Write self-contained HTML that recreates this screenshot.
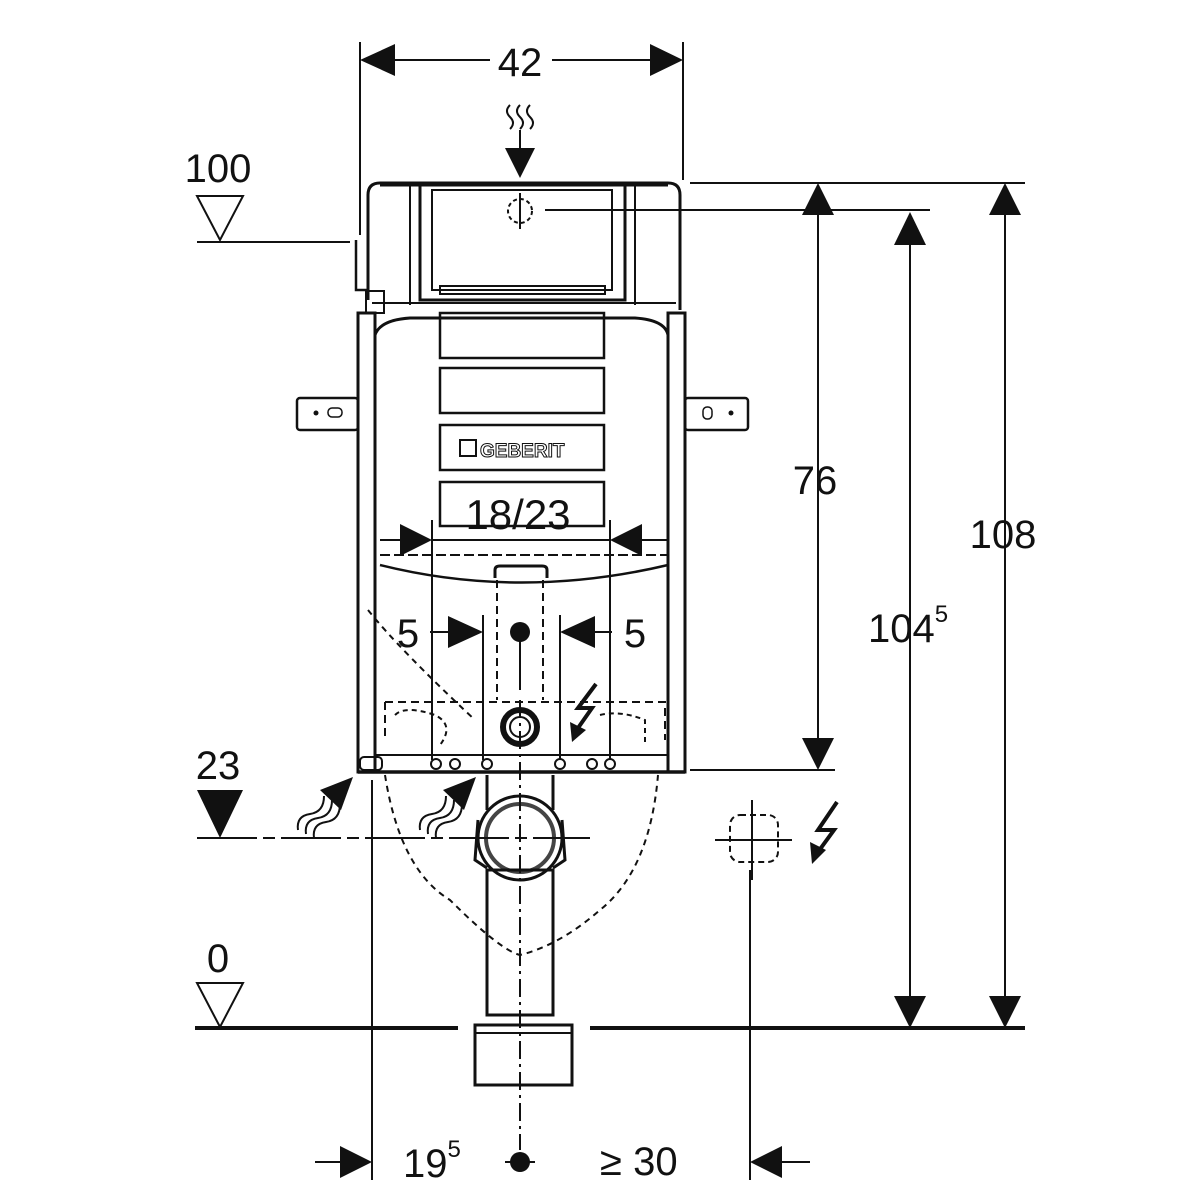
<!DOCTYPE html>
<html><head><meta charset="utf-8"><style>
html,body{margin:0;padding:0;background:#fff}
svg{display:block}
text{font-family:"Liberation Sans",sans-serif;fill:#111}
</style></head><body>
<svg width="1200" height="1200" viewBox="0 0 1200 1200" xmlns="http://www.w3.org/2000/svg">
<g stroke="#111" fill="none" stroke-width="2">
<line x1="360" y1="42" x2="360" y2="235"/>
<line x1="683" y1="42" x2="683" y2="180"/>
<line x1="395" y1="60" x2="490" y2="60"/>
<line x1="552" y1="60" x2="650" y2="60"/>
<path d="M510 105 q-6 6 0 12 q6 6 0 12 M520 105 q-6 6 0 12 q6 6 0 12 M530 105 q-6 6 0 12 q6 6 0 12"/>
<line x1="520" y1="130" x2="520" y2="150"/>
<path d="M368 300 L368 195 Q368 183 380 183 L668 183 Q680 183 680 195 L680 310" stroke-width="3"/>
<line x1="380" y1="185" x2="668" y2="185" stroke-width="3"/>
<rect x="420" y="185" width="205" height="115" stroke-width="3"/>
<rect x="432" y="190" width="180" height="100" stroke-width="2"/>
<rect x="440" y="286" width="165" height="8" stroke-width="2"/>
<line x1="410" y1="185" x2="410" y2="305"/>
<line x1="635" y1="185" x2="635" y2="305"/>
<line x1="372" y1="303" x2="676" y2="303"/>
<path d="M356 240 L356 290 L368 290" stroke-width="2.5"/>
<rect x="366" y="291" width="18" height="22" stroke-width="2"/>
<circle cx="520" cy="211" r="12" stroke-dasharray="4 3"/>
<line x1="520" y1="193" x2="520" y2="229"/>
<line x1="545" y1="210" x2="930" y2="210"/>
<line x1="690" y1="183" x2="1025" y2="183"/>
<rect x="358" y="313" width="17" height="459" stroke-width="3"/>
<rect x="668" y="313" width="17" height="459" stroke-width="3"/>
<path d="M375 772 L375 335 Q380 320 410 318 L635 318 Q665 320 668 335 L668 772" stroke-width="3"/>
<line x1="358" y1="772" x2="685" y2="772" stroke-width="3.5"/>
<line x1="375" y1="755" x2="668" y2="755" stroke-width="2"/>
<rect x="440" y="313" width="164" height="45" stroke-width="2.5"/>
<rect x="440" y="368" width="164" height="45" stroke-width="2.5"/>
<rect x="440" y="425" width="164" height="45" stroke-width="2.5"/>
<rect x="440" y="482" width="164" height="44" stroke-width="2.5"/>
<rect x="297" y="398" width="61" height="32" rx="3" stroke-width="2.5"/>
<rect x="685" y="398" width="63" height="32" rx="3" stroke-width="2.5"/>
<line x1="432" y1="520" x2="432" y2="760"/>
<line x1="610" y1="520" x2="610" y2="760"/>
<line x1="380" y1="540" x2="400" y2="540"/>
<line x1="432" y1="540" x2="610" y2="540"/>
<line x1="642" y1="540" x2="668" y2="540"/>
<line x1="380" y1="555" x2="668" y2="555" stroke-dasharray="10 4"/>
<path d="M380 565 Q520 600 668 565" stroke-width="2.5"/>
<path d="M495 578 L495 570 Q495 566 500 566 L542 566 Q547 566 547 570 L547 578" stroke-width="3"/>
<line x1="497" y1="580" x2="497" y2="700" stroke-dasharray="8 5"/>
<line x1="543" y1="580" x2="543" y2="700" stroke-dasharray="8 5"/>
<line x1="483" y1="615" x2="483" y2="760"/>
<line x1="560" y1="615" x2="560" y2="760"/>
<line x1="430" y1="632" x2="448" y2="632"/>
<line x1="595" y1="632" x2="612" y2="632"/>
<line x1="520" y1="640" x2="520" y2="690"/>
<path d="M385 702 L665 702 L665 740 M385 702 L385 740" stroke-dasharray="8 5"/>
<path d="M395 715 q10 -10 40 0 q20 10 5 30 M600 715 q20 -5 45 5 l0 25" stroke-dasharray="5 4"/>
<path d="M368 610 Q400 650 475 720" stroke-dasharray="6 5"/>
<circle cx="520" cy="727" r="17" stroke-width="6"/>
<circle cx="520" cy="727" r="10"/>
<circle cx="436" cy="764" r="5"/><circle cx="455" cy="764" r="5"/><circle cx="487" cy="764" r="5"/>
<circle cx="560" cy="764" r="5"/><circle cx="592" cy="764" r="5"/><circle cx="610" cy="764" r="5"/>
<rect x="360" y="757" width="22" height="13" rx="4"/>
<path d="M385 775 Q400 870 450 900 Q500 950 520 955 Q560 945 600 910 Q650 870 658 775" stroke-dasharray="6 5"/>
<path d="M487 775 L487 810 M553 775 L553 810" stroke-width="3"/>
<circle cx="520" cy="838" r="42" stroke-width="3"/>
<circle cx="520" cy="838" r="34" stroke-width="4" stroke="#444"/>
<path d="M478 820 L475 860 L487 868 M562 820 L565 860 L553 868" stroke-width="3"/>
<rect x="487" y="870" width="66" height="145" stroke-width="3"/>
<rect x="475" y="1025" width="97" height="60" stroke-width="3"/>
<line x1="475" y1="1033" x2="572" y2="1033" stroke-width="2"/>
<line x1="520" y1="700" x2="520" y2="1150" stroke-dasharray="18 5 3 5"/>
<line x1="197" y1="242" x2="350" y2="242"/>
<path d="M197 196 L243 196 L220 240 Z"/>
<line x1="197" y1="838" x2="590" y2="838" stroke-dasharray="60 6 12 6"/>
<path d="M197 983 L243 983 L220 1027 Z"/>
<line x1="195" y1="1028" x2="458" y2="1028" stroke-width="4"/>
<line x1="590" y1="1028" x2="1025" y2="1028" stroke-width="4"/>
<path d="M298 830 q-2 -14 12 -16 q14 -2 14 -18 M306 834 q-2 -14 12 -16 q14 -2 14 -18 M314 838 q-2 -14 12 -16 q14 -2 14 -18" stroke-width="2"/>
<path d="M420 830 q-2 -14 12 -16 q14 -2 14 -18 M428 834 q-2 -14 12 -16 q14 -2 14 -18 M436 838 q-2 -14 12 -16 q14 -2 14 -18" stroke-width="2"/>
<line x1="818" y1="215" x2="818" y2="740"/>
<line x1="910" y1="245" x2="910" y2="998"/>
<line x1="1005" y1="215" x2="1005" y2="998"/>
<line x1="690" y1="770" x2="835" y2="770"/>
<rect x="730" y="815" width="48" height="47" rx="10" stroke-dasharray="6 4"/>
<line x1="715" y1="840" x2="792" y2="840"/>
<line x1="752" y1="800" x2="752" y2="880"/>
<line x1="750" y1="870" x2="750" y2="1180"/>
<line x1="372" y1="780" x2="372" y2="1180"/>
<line x1="315" y1="1162" x2="340" y2="1162"/>
<line x1="505" y1="1162" x2="535" y2="1162"/>
<line x1="782" y1="1162" x2="810" y2="1162"/>
<!-- lightning bolts -->
<path d="M596 684 L578 708 L592 708 L578 728" stroke-width="4"/>
<path d="M837 802 L818 830 L834 830 L818 852" stroke-width="4"/>
</g>
<g fill="#111" stroke="none">
<path d="M360 60 L395 44 L395 76 Z"/>
<path d="M683 60 L650 44 L650 76 Z"/>
<path d="M520 178 L505 148 L535 148 Z"/>
<path d="M432 540 L400 524 L400 556 Z"/>
<path d="M610 540 L642 524 L642 556 Z"/>
<path d="M483 632 L448 616 L448 648 Z"/>
<path d="M560 632 L595 616 L595 648 Z"/>
<circle cx="520" cy="632" r="10"/>
<path d="M818 183 L802 215 L834 215 Z"/>
<path d="M818 770 L802 738 L834 738 Z"/>
<path d="M910 212 L894 245 L926 245 Z"/>
<path d="M910 1028 L894 996 L926 996 Z"/>
<path d="M1005 183 L989 215 L1021 215 Z"/>
<path d="M1005 1028 L989 996 L1021 996 Z"/>
<path d="M197 790 L243 790 L220 838 Z"/>
<path d="M353 777 L320 790 L341 810 Z"/>
<path d="M476 777 L443 790 L464 810 Z"/>
<path d="M372 1162 L340 1146 L340 1178 Z"/>
<path d="M750 1162 L782 1146 L782 1178 Z"/>
<circle cx="520" cy="1162" r="10"/>
<path d="M572 742 L570 722 L586 730 Z"/>
<path d="M812 864 L810 842 L826 850 Z"/>
<circle cx="316" cy="413" r="2.5"/><circle cx="731" cy="413" r="2.5"/>
</g>
<rect x="460" y="440" width="16" height="16" fill="none" stroke="#111" stroke-width="2"/>
<g fill="none" stroke="#111" stroke-width="1.5"><rect x="328" y="408" width="14" height="9" rx="4"/><rect x="703" y="407" width="9" height="12" rx="4"/></g>
<text x="480" y="457" font-size="19" font-weight="bold" stroke="#111" stroke-width="1" style="fill:#fff">GEBERIT</text>
<g font-size="40">
<text x="520" y="76" text-anchor="middle">42</text>
<text x="218" y="182" text-anchor="middle">100</text>
<text x="218" y="779" text-anchor="middle">23</text>
<text x="218" y="972" text-anchor="middle">0</text>
<text x="518" y="529" text-anchor="middle" font-size="42">18/23</text>
<text x="408" y="647" text-anchor="middle">5</text>
<text x="635" y="647" text-anchor="middle">5</text>
<text x="815" y="494" text-anchor="middle">76</text>
<text x="1003" y="548" text-anchor="middle">108</text>
<text x="868" y="642">104<tspan font-size="24" dy="-20">5</tspan></text>
<text x="403" y="1177">19<tspan font-size="24" dy="-20">5</tspan></text>
<text x="600" y="1175">≥ 30</text>
</g>
</svg>
</body></html>
